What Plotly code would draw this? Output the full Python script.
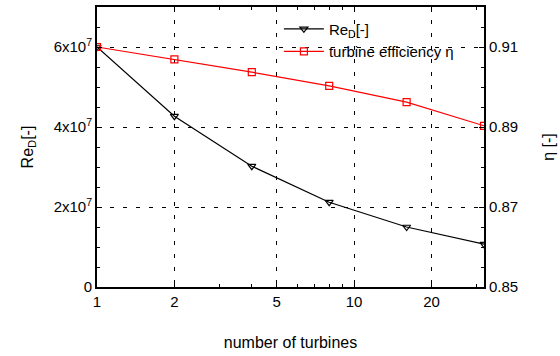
import plotly.graph_objects as go

turbines = [1, 2, 4, 8, 16, 32]
re_d = [6.0e7, 4.27e7, 3.02e7, 2.12e7, 1.5e7, 1.07e7]
efficiency = [0.910, 0.9069, 0.9037, 0.9003, 0.8962, 0.8903]

x_ticks = [1, 2, 5, 10, 20]
x_minor = [3, 4, 6, 7, 8, 9, 30]
y_ticks = [0, 2e7, 4e7, 6e7]
y_ticktext = ["0", "2x10<sup>7</sup>", "4x10<sup>7</sup>", "6x10<sup>7</sup>"]
y2_ticks = [0.85, 0.87, 0.89, 0.91]
y2_ticktext = ["0.85", "0.87", "0.89", "0.91"]

tick_font = dict(family="Liberation Sans, Arial, sans-serif", size=15, color="black")
title_font = dict(family="Liberation Sans, Arial, sans-serif", size=16, color="black")

fig = go.Figure()
fig.add_trace(go.Scatter(
    x=turbines, y=re_d, name="Re<sub>D</sub>[-]", mode="lines+markers",
    line=dict(color="black", width=1.2),
    marker=dict(symbol="triangle-down-open", size=7, color="black", line=dict(width=1.2)),
    yaxis="y"))
fig.add_trace(go.Scatter(
    x=turbines, y=efficiency, name="turbine efficiency η", mode="lines+markers",
    line=dict(color="#ff0000", width=1.2),
    marker=dict(symbol="square-open", size=7, color="#ff0000", line=dict(width=1.2)),
    yaxis="y2"))

fig.update_layout(
    width=560, height=356,
    margin=dict(l=97, r=73, t=5, b=69),
    paper_bgcolor="white", plot_bgcolor="white",
    font=tick_font,
    showlegend=True,
    legend=dict(x=0.47, y=0.98, xanchor="left", yanchor="top",
                bgcolor="rgba(0,0,0,0)", font=tick_font, tracegroupgap=0,
                itemwidth=40),
    xaxis=dict(
        type="log", range=[0, 1.50515],
        tickvals=x_ticks, ticktext=[str(v) for v in x_ticks],
        ticks="inside", ticklen=5, tickcolor="black",
        minor=dict(tickvals=x_minor, ticks="inside", ticklen=3, tickcolor="black", showgrid=False),
        showline=True, linecolor="black", linewidth=2, mirror="ticks",
        showgrid=True, gridcolor="black", gridwidth=1, griddash="4px,9px",
        zeroline=False,
        title=dict(text="number of turbines", standoff=28, font=title_font),
        tickfont=tick_font),
    yaxis=dict(
        range=[0, 7e7],
        tickvals=y_ticks, ticktext=y_ticktext,
        ticks="inside", ticklen=5, tickcolor="black",
        minor=dict(dtick=5e6, ticks="inside", ticklen=3, tickcolor="black", showgrid=False),
        showline=True, linecolor="black", linewidth=2, mirror=True,
        showgrid=True, gridcolor="black", gridwidth=1, griddash="4px,9px",
        zeroline=False,
        title=dict(text="Re<sub>D</sub>[-]", standoff=16, font=title_font),
        tickfont=tick_font),
    yaxis2=dict(
        range=[0.85, 0.92], overlaying="y", side="right",
        tickvals=y2_ticks, ticktext=y2_ticktext,
        ticks="inside", ticklen=5, tickcolor="black",
        minor=dict(dtick=0.005, ticks="inside", ticklen=3, tickcolor="black", showgrid=False),
        showline=True, linecolor="black", linewidth=2,
        showgrid=False, zeroline=False,
        title=dict(text="η [-]", standoff=26, font=title_font),
        tickfont=tick_font),
)

fig.write_html("out.html", config={"displayModeBar": False},
               post_script="document.body.style.margin='0';")
